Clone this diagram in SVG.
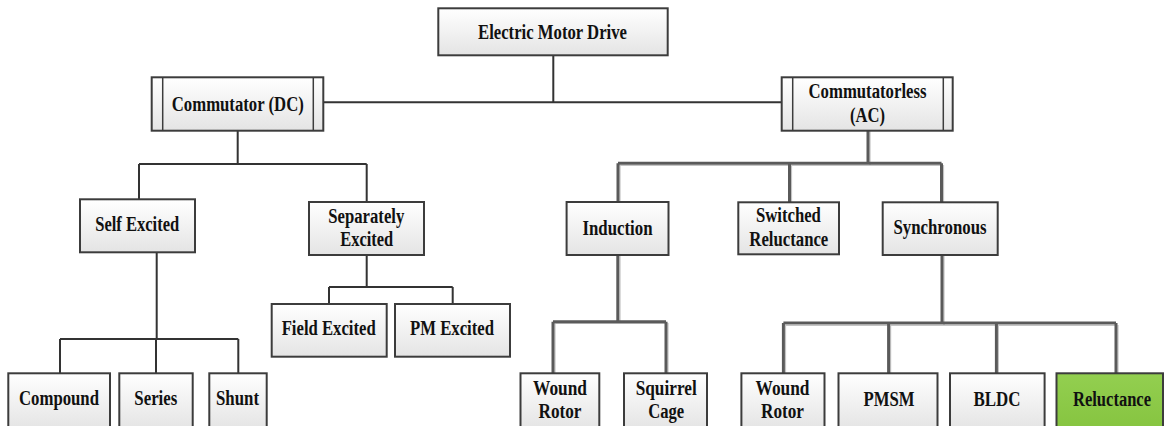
<svg xmlns="http://www.w3.org/2000/svg" width="1164" height="426" viewBox="0 0 1164 426">
<defs>
<linearGradient id="g" x1="0" y1="0" x2="0" y2="1"><stop offset="0" stop-color="#ffffff"/><stop offset="1" stop-color="#e4e4e4"/></linearGradient>
<linearGradient id="gg" x1="0" y1="0" x2="0" y2="1"><stop offset="0" stop-color="#93cf50"/><stop offset="1" stop-color="#86c440"/></linearGradient>
<style>
.b{fill:url(#g);stroke:#3c3c3c;stroke-width:2}
.t{font-family:"Liberation Serif","Times New Roman",serif;font-weight:bold;font-size:20px;fill:#111;text-anchor:middle}
.c{fill:none;stroke:#333;stroke-width:2}
.a{fill:none;stroke:#5a5a5a;stroke-width:3}
.ah{fill:none;stroke:#c4c4c4;stroke-width:1.2}
.bar{stroke:#3c3c3c;stroke-width:1.5}
</style>
</defs>
<rect width="1164" height="426" fill="#fff"/>
<g id="connectors">
<path class="c" d="M553.3 56V102.3M323 102.3H782"/>
<path class="c" d="M237.7 131V164M139 164H366.7M139 164V199M366.7 164V202"/>
<path class="c" d="M156.7 253V339M60 339H238.3M60 339V373M156 339V373M238.3 339V373"/>
<path class="c" d="M366.7 256V287M329 287H452.7M329 287V304M452.7 287V304"/>
<path class="ah" d="M870 131V165M618 165.5H943M620 165V202M791.5 165V202M943.5 165V202"/>
<path class="a" d="M868 131V163.3M618 163.3H941.5M618 163.3V202M789.5 163.3V202M941.5 163.3V202"/>
<path class="ah" d="M620 256V323M553 323.5H666M555 323V373M668 323V373"/>
<path class="a" d="M617.8 256V321.7M553 321.7H666M553 321.7V373M666 321.7V373"/>
<path class="ah" d="M944 256V325M783 325.5H1116M785.5 325V373M890.6 325V373M998.4 325V373M1118 325V373"/>
<path class="a" d="M942 256V323M783.4 323H1116M783.4 323V373M888.6 323V373M996.4 323V373M1116 323V373"/>
</g>
<g id="n-electric"><rect class="b" x="438.3" y="8.3" width="229.4" height="47"/><text class="t" x="552.5" y="39.3" textLength="149" lengthAdjust="spacingAndGlyphs">Electric Motor Drive</text></g>
<g id="n-commutator"><rect class="b" x="151.7" y="77.3" width="171.6" height="53.4"/><line class="bar" x1="162.7" y1="77.3" x2="162.7" y2="130.7"/><line class="bar" x1="313.3" y1="77.3" x2="313.3" y2="130.7"/><text class="t" x="237.8" y="110.7" textLength="132" lengthAdjust="spacingAndGlyphs">Commutator (DC)</text></g>
<g id="n-commutatorless"><rect class="b" x="781.7" y="77.3" width="171" height="53.4"/><line class="bar" x1="792.7" y1="77.3" x2="792.7" y2="130.7"/><line class="bar" x1="943.3" y1="77.3" x2="943.3" y2="130.7"/><text class="t" x="867.5" y="98.3" textLength="118" lengthAdjust="spacingAndGlyphs">Commutatorless</text><text class="t" x="867.5" y="121.7" textLength="35" lengthAdjust="spacingAndGlyphs">(AC)</text></g>
<g id="n-self"><rect class="b" x="80" y="199.3" width="115" height="53"/><text class="t" x="137.2" y="230.7" textLength="84" lengthAdjust="spacingAndGlyphs">Self Excited</text></g>
<g id="n-separately"><rect class="b" x="309" y="202" width="115" height="53"/><text class="t" x="366.3" y="222.7" textLength="76" lengthAdjust="spacingAndGlyphs">Separately</text><text class="t" x="366.7" y="246" textLength="53" lengthAdjust="spacingAndGlyphs">Excited</text></g>
<g id="n-field"><rect class="b" x="271.7" y="304" width="115" height="52.7"/><text class="t" x="328.7" y="335" textLength="94" lengthAdjust="spacingAndGlyphs">Field Excited</text></g>
<g id="n-pm"><rect class="b" x="395" y="304" width="115" height="52.7"/><text class="t" x="452" y="335" textLength="84" lengthAdjust="spacingAndGlyphs">PM Excited</text></g>
<g id="n-compound"><rect class="b" x="8.3" y="373.3" width="101.7" height="56"/><text class="t" x="59" y="405" textLength="80" lengthAdjust="spacingAndGlyphs">Compound</text></g>
<g id="n-series"><rect class="b" x="119.3" y="373.3" width="73.4" height="56"/><text class="t" x="155.8" y="405" textLength="43" lengthAdjust="spacingAndGlyphs">Series</text></g>
<g id="n-shunt"><rect class="b" x="209.3" y="373.3" width="57.4" height="56"/><text class="t" x="237.5" y="405" textLength="43" lengthAdjust="spacingAndGlyphs">Shunt</text></g>
<g id="n-induction"><rect class="b" x="566.6" y="202" width="101.9" height="53"/><text class="t" x="617.5" y="235" textLength="70" lengthAdjust="spacingAndGlyphs">Induction</text></g>
<g id="n-switched"><rect class="b" x="738.3" y="202.3" width="100.7" height="52"/><text class="t" x="788.4" y="222.3" textLength="65" lengthAdjust="spacingAndGlyphs">Switched</text><text class="t" x="788.8" y="246" textLength="79" lengthAdjust="spacingAndGlyphs">Reluctance</text></g>
<g id="n-synchronous"><rect class="b" x="882.7" y="202.3" width="115" height="52.7"/><text class="t" x="940" y="234.3" textLength="93" lengthAdjust="spacingAndGlyphs">Synchronous</text></g>
<g id="n-wound1"><rect class="b" x="520.5" y="373.3" width="78.8" height="56"/><text class="t" x="560" y="395" textLength="54" lengthAdjust="spacingAndGlyphs">Wound</text><text class="t" x="560" y="418.3" textLength="43" lengthAdjust="spacingAndGlyphs">Rotor</text></g>
<g id="n-squirrel"><rect class="b" x="624" y="373.3" width="83" height="56"/><text class="t" x="666.2" y="395" textLength="61" lengthAdjust="spacingAndGlyphs">Squirrel</text><text class="t" x="666.2" y="418.3" textLength="36" lengthAdjust="spacingAndGlyphs">Cage</text></g>
<g id="n-wound2"><rect class="b" x="741.4" y="373.3" width="83.1" height="56"/><text class="t" x="782.5" y="395" textLength="54" lengthAdjust="spacingAndGlyphs">Wound</text><text class="t" x="782.5" y="418.3" textLength="43" lengthAdjust="spacingAndGlyphs">Rotor</text></g>
<g id="n-pmsm"><rect class="b" x="838.5" y="373.3" width="99" height="56"/><text class="t" x="889" y="406" textLength="51" lengthAdjust="spacingAndGlyphs">PMSM</text></g>
<g id="n-bldc"><rect class="b" x="950" y="373.3" width="94.6" height="56"/><text class="t" x="997" y="406" textLength="47" lengthAdjust="spacingAndGlyphs">BLDC</text></g>
<g id="n-reluctance"><rect class="b" style="fill:url(#gg)" x="1056.5" y="373.3" width="106.5" height="56"/><text class="t" x="1112" y="406" textLength="78" lengthAdjust="spacingAndGlyphs">Reluctance</text></g>
</svg>
